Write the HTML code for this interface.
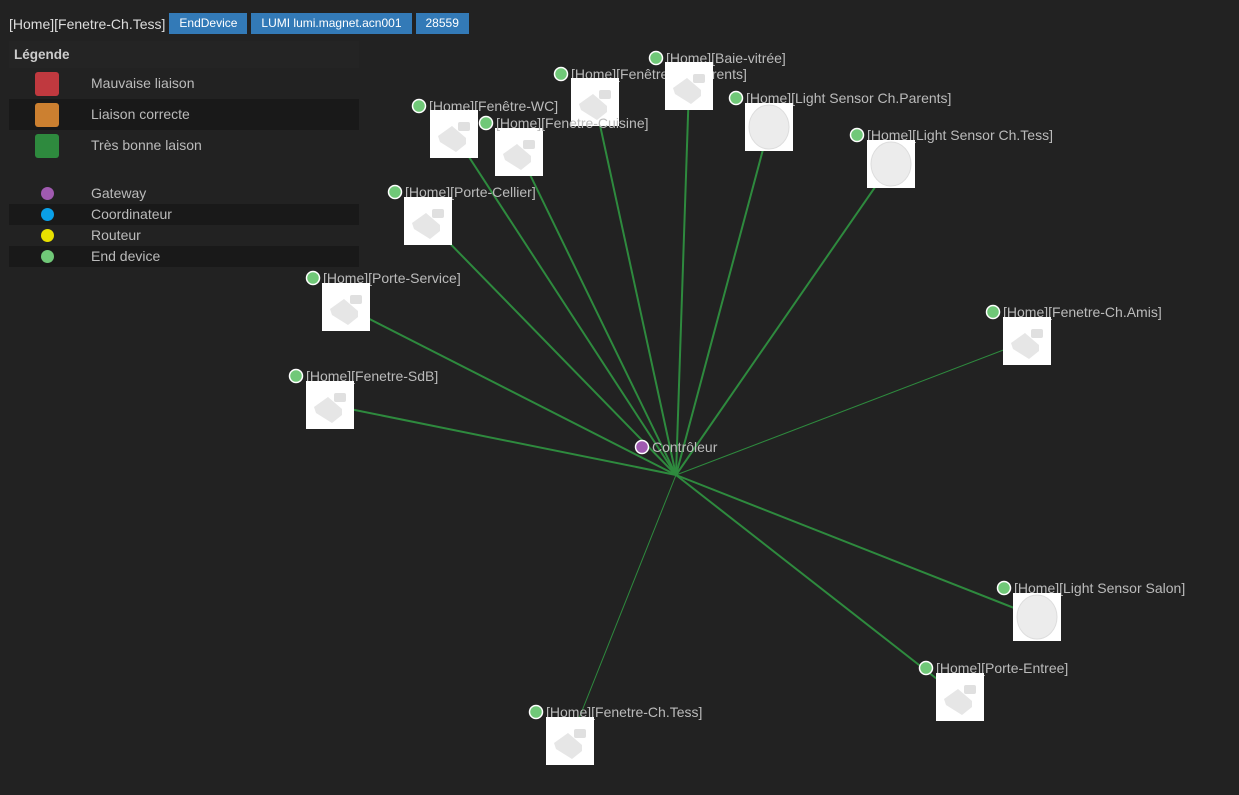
<!DOCTYPE html>
<html><head><meta charset="utf-8"><style>
body{margin:0;width:1239px;height:795px;background:#222222;overflow:hidden;font-family:"Liberation Sans",sans-serif;}
.hdr{position:absolute;top:13px;left:9px;font-size:14px;color:#ddd;display:flex;align-items:center;}
.b{background:#337ab7;color:#fff;font-size:12px;height:21px;line-height:21px;padding:0 10px;margin-left:4px;}
.leg{position:absolute;left:9px;top:41px;width:350px;color:#bbb;font-size:14px;}
.row{position:relative;height:31px;}
.dk{background:#191919;}
.sq{position:absolute;left:26px;top:4px;width:24px;height:24px;border-radius:3px;}
.t{position:absolute;left:82px;top:7px;}
.r2{position:relative;height:21px;}
.dot{position:absolute;left:32px;top:4px;width:13px;height:13px;border-radius:50%;}
.r2 .t{top:2px;}
</style></head><body>
<div class="hdr"><span style="margin-right:0px">[Home][Fenetre-Ch.Tess]</span><span class="b">EndDevice</span><span class="b">LUMI lumi.magnet.acn001</span><span class="b">28559</span></div>
<div class="leg">
<div class="row" style="height:27px;background:#242424"><b style="position:absolute;left:5px;top:6px;font-size:13.5px;color:#ccc">Légende</b></div>
<div class="row"><div class="sq" style="background:#c0393f"></div><div class="t">Mauvaise liaison</div></div>
<div class="row dk"><div class="sq" style="background:#cc8030"></div><div class="t">Liaison correcte</div></div>
<div class="row"><div class="sq" style="background:#2e8a3e"></div><div class="t">Très bonne laison</div></div>
<div style="height:22px"></div>
<div class="r2"><div class="dot" style="background:#a05ab0"></div><div class="t">Gateway</div></div>
<div class="r2 dk"><div class="dot" style="background:#0aa0e8"></div><div class="t">Coordinateur</div></div>
<div class="r2"><div class="dot" style="background:#e8e000"></div><div class="t">Routeur</div></div>
<div class="r2 dk"><div class="dot" style="background:#70c878"></div><div class="t">End device</div></div>
</div>
<svg width="1239" height="795" style="position:absolute;left:0;top:0" font-family="Liberation Sans, sans-serif" font-size="14">
<defs>
<g id="mag"><rect width="48" height="48" fill="#fff"/><path d="M8 26 L22 16 L36 28 L36 34 L26 42 L10 32 Z" fill="#e6e6e6"/><rect x="28" y="12" width="12" height="9" rx="2" fill="#e0e0e0"/></g>
<g id="ls"><rect width="48" height="48" fill="#fff"/><ellipse cx="24" cy="24" rx="20" ry="22" fill="#ececec" stroke="#ddd"/></g>
</defs>
<g stroke="#2e8a3e" stroke-width="2">
<line x1="676" y1="475" x2="595" y2="102"/>
<line x1="676" y1="475" x2="689" y2="86"/>
<line x1="676" y1="475" x2="769" y2="127"/>
<line x1="676" y1="475" x2="891" y2="164"/>
<line x1="676" y1="475" x2="454" y2="134"/>
<line x1="676" y1="475" x2="519" y2="152"/>
<line x1="676" y1="475" x2="428" y2="221"/>
<line x1="676" y1="475" x2="346" y2="307"/>
<line x1="676" y1="475" x2="330" y2="405"/>
<line x1="676" y1="475" x2="1037" y2="617"/>
<line x1="676" y1="475" x2="960" y2="697"/>
<line x1="676" y1="475" x2="1027" y2="341" stroke-width="1"/>
<line x1="676" y1="475" x2="570" y2="741" stroke-width="1"/>
</g>
<g fill="#bbb">
<g><circle cx="419" cy="106" r="6.5" fill="#70c878" stroke="#fff" stroke-width="1.5"/><text x="429" y="111">[Home][Fenêtre-WC]</text><use href="#mag" x="430" y="110"/></g>
<g><circle cx="561" cy="74" r="6.5" fill="#70c878" stroke="#fff" stroke-width="1.5"/><text x="571" y="79">[Home][Fenêtre-Ch.Parents]</text><use href="#mag" x="571" y="78"/></g>
<g><circle cx="656" cy="58" r="6.5" fill="#70c878" stroke="#fff" stroke-width="1.5"/><text x="666" y="63">[Home][Baie-vitrée]</text><use href="#mag" x="665" y="62"/></g>
<g><circle cx="486" cy="123" r="6.5" fill="#70c878" stroke="#fff" stroke-width="1.5"/><use href="#mag" x="495" y="128"/><text x="496" y="128">[Home][Fenetre-Cuisine]</text></g>
<g><circle cx="736" cy="98" r="6.5" fill="#70c878" stroke="#fff" stroke-width="1.5"/><text x="746" y="103">[Home][Light Sensor Ch.Parents]</text><use href="#ls" x="745" y="103"/></g>
<g><circle cx="857" cy="135" r="6.5" fill="#70c878" stroke="#fff" stroke-width="1.5"/><text x="867" y="140">[Home][Light Sensor Ch.Tess]</text><use href="#ls" x="867" y="140"/></g>
<g><circle cx="395" cy="192" r="6.5" fill="#70c878" stroke="#fff" stroke-width="1.5"/><text x="405" y="197">[Home][Porte-Cellier]</text><use href="#mag" x="404" y="197"/></g>
<g><circle cx="313" cy="278" r="6.5" fill="#70c878" stroke="#fff" stroke-width="1.5"/><text x="323" y="283">[Home][Porte-Service]</text><use href="#mag" x="322" y="283"/></g>
<g><circle cx="296" cy="376" r="6.5" fill="#70c878" stroke="#fff" stroke-width="1.5"/><text x="306" y="381">[Home][Fenetre-SdB]</text><use href="#mag" x="306" y="381"/></g>
<g><circle cx="993" cy="312" r="6.5" fill="#70c878" stroke="#fff" stroke-width="1.5"/><text x="1003" y="317">[Home][Fenetre-Ch.Amis]</text><use href="#mag" x="1003" y="317"/></g>
<g><circle cx="1004" cy="588" r="6.5" fill="#70c878" stroke="#fff" stroke-width="1.5"/><text x="1014" y="593">[Home][Light Sensor Salon]</text><use href="#ls" x="1013" y="593"/></g>
<g><circle cx="926" cy="668" r="6.5" fill="#70c878" stroke="#fff" stroke-width="1.5"/><text x="936" y="673">[Home][Porte-Entree]</text><use href="#mag" x="936" y="673"/></g>
<g><circle cx="536" cy="712" r="6.5" fill="#70c878" stroke="#fff" stroke-width="1.5"/><text x="546" y="717">[Home][Fenetre-Ch.Tess]</text><use href="#mag" x="546" y="717"/></g>
<g><circle cx="642" cy="447" r="6.5" fill="#a05ab0" stroke="#fff" stroke-width="1.5"/><text x="652" y="452">Contrôleur</text></g>
</g>
</svg>
</body></html>
